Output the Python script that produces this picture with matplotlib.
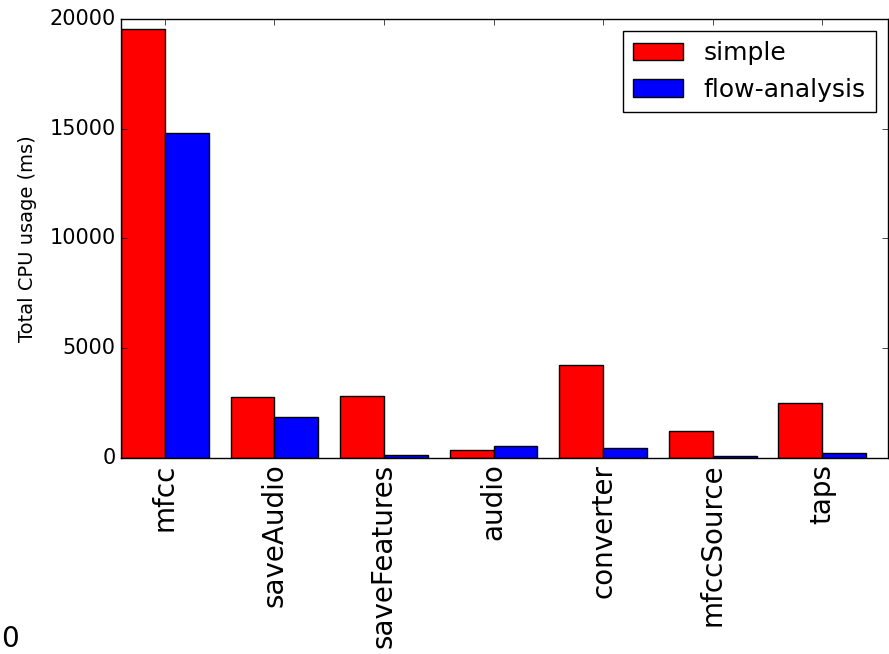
import matplotlib
matplotlib.use("Agg")
import matplotlib.pyplot as plt
import numpy as np

plt.style.use('classic')

categories = ["mfcc", "saveAudio", "saveFeatures", "audio", "converter", "mfccSource", "taps"]
simple = [19530, 2790, 2825, 365, 4220, 1215, 2505]
flow_analysis = [14790, 1870, 150, 535, 440, 80, 230]
yticks = [0, 5000, 10000, 15000, 20000]

fig = plt.figure(figsize=(8.89, 6.54), dpi=100)
fig.patch.set_facecolor('white')
ax = fig.add_axes([121/889, 1-458/654, (888-121)/889, (458-19)/654])

ind = np.arange(len(categories))
w = 0.4
ax.bar(ind - w, simple, w, color='#ff0000', edgecolor='black', linewidth=1, label='simple', align='edge')
ax.bar(ind, flow_analysis, w, color='#0000ff', edgecolor='black', linewidth=1, label='flow-analysis', align='edge')

ax.set_xlim(-0.4, 6.6)
ax.set_ylim(0, 20000)
ax.set_yticks(yticks)
ax.set_xticks(ind)
ax.set_xticklabels(categories, rotation=90, fontsize=20)
ax.tick_params(axis='y', labelsize=15)
ax.set_ylabel("Total CPU usage (ms)", fontsize=14, labelpad=9)
leg = ax.legend(loc='upper right', fontsize=18)

fig.text(1/889, 1/654, "0", fontsize=20, ha='left', va='bottom')

fig.savefig("out.png", dpi=100, facecolor='white')
